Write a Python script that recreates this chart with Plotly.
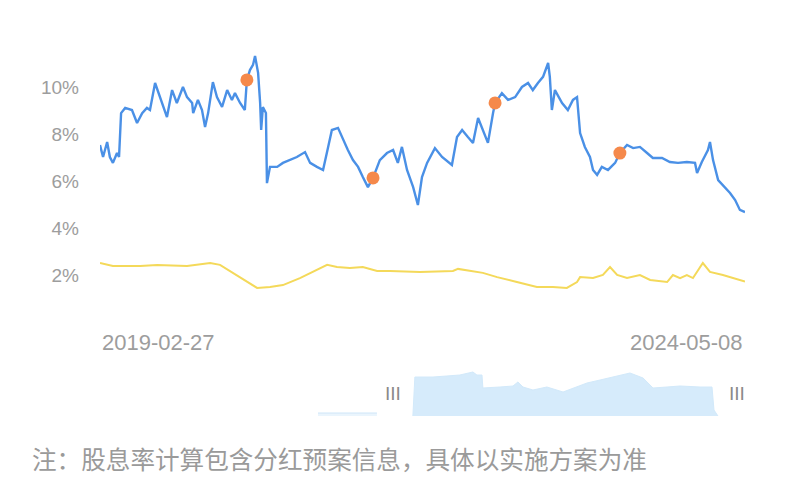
import plotly.graph_objects as go

# ---------------- data ----------------
blue_dates = [
    "2019-02-27", "2019-03-08", "2019-03-20", "2019-03-28", "2019-04-06", "2019-04-18", "2019-04-24",
    "2019-04-30", "2019-05-12", "2019-06-01", "2019-06-16", "2019-07-01", "2019-07-15", "2019-07-24",
    "2019-08-08", "2019-08-22", "2019-09-12", "2019-09-27", "2019-10-11", "2019-10-29", "2019-11-10",
    "2019-11-25", "2019-11-28", "2019-12-12", "2019-12-24", "2020-01-02", "2020-01-11", "2020-01-25",
    "2020-02-06", "2020-02-21", "2020-03-07", "2020-03-21", "2020-03-30", "2020-04-14", "2020-04-28",
    "2020-05-04", "2020-05-13", "2020-05-22", "2020-05-28", "2020-06-06", "2020-06-12", "2020-06-15",
    "2020-06-20", "2020-06-29", "2020-07-02", "2020-07-11", "2020-08-01", "2020-08-18", "2020-09-08",
    "2020-09-28", "2020-10-22", "2020-11-06", "2020-11-26", "2020-12-14", "2020-12-29", "2021-01-09",
    "2021-01-27", "2021-02-11", "2021-02-25", "2021-03-12", "2021-03-27", "2021-04-10", "2021-04-25",
    "2021-05-10", "2021-05-30", "2021-06-20", "2021-07-08", "2021-07-22", "2021-08-03", "2021-08-18",
    "2021-09-05", "2021-09-19", "2021-10-01", "2021-10-16", "2021-11-08", "2021-11-29", "2021-12-16",
    "2021-12-28", "2022-01-12", "2022-01-27", "2022-02-13", "2022-02-28", "2022-03-15", "2022-03-29",
    "2022-04-13", "2022-04-28", "2022-05-04", "2022-05-24", "2022-06-11", "2022-07-02", "2022-07-22",
    "2022-08-09", "2022-08-23", "2022-09-07", "2022-09-22", "2022-10-07", "2022-10-12", "2022-10-18",
    "2022-10-27", "2022-11-17", "2022-12-04", "2022-12-19", "2022-12-31", "2023-01-09", "2023-01-23",
    "2023-02-07", "2023-02-16", "2023-02-28", "2023-03-14", "2023-04-01", "2023-04-22", "2023-05-06",
    "2023-05-27", "2023-06-14", "2023-07-04", "2023-07-25", "2023-08-11", "2023-09-07", "2023-09-30",
    "2023-10-24", "2023-11-19", "2023-12-13", "2023-12-19", "2024-01-02", "2024-01-20", "2024-01-26",
    "2024-02-04", "2024-02-19", "2024-03-10", "2024-03-25", "2024-04-09", "2024-04-23", "2024-05-08",
]
blue_vals = [
    7.53, 7.02, 7.66, 7.02, 6.77, 7.19, 7.02,
    8.89, 9.11, 9.02, 8.47, 8.89, 9.11, 9.02,
    10.17, 9.57, 8.72, 9.87, 9.32, 10.00, 9.57,
    9.32, 8.89, 9.45, 9.02, 8.30, 8.89, 10.21,
    9.57, 9.15, 9.87, 9.45, 9.74, 9.32, 9.02,
    10.30, 10.72, 10.94, 11.32, 10.60, 9.32, 8.17,
    9.15, 8.89, 5.91, 6.60, 6.60, 6.77, 6.89,
    7.02, 7.23, 6.77, 6.60, 6.47, 7.45, 8.17,
    8.26, 7.74, 7.32, 6.89, 6.60, 6.17, 5.74,
    6.13, 6.89, 7.19, 7.32, 6.77, 7.45, 6.47,
    5.74, 4.98, 6.17, 6.77, 7.40, 7.02, 6.81,
    6.68, 7.87, 8.17, 7.87, 7.62, 8.68, 8.17,
    7.62, 8.89, 9.32, 9.74, 9.45, 9.57, 10.00,
    10.17, 9.87, 10.17, 10.43, 11.02, 10.43, 9.02,
    9.87, 9.32, 9.02, 9.45, 9.57, 8.04, 7.45,
    7.02, 6.47, 6.26, 6.60, 6.47, 6.77, 7.19,
    7.53, 7.40, 7.45, 7.19, 6.98, 6.98, 6.81,
    6.77, 6.81, 6.77, 6.34, 6.81, 7.32, 7.66,
    6.89, 6.04, 5.74, 5.49, 5.19, 4.77, 4.68,
]

yellow_dates = [
    "2019-02-27", "2019-04-06", "2019-06-25", "2019-08-14", "2019-11-10", "2019-12-18", "2020-01-17",
    "2020-02-15", "2020-03-24", "2020-05-04", "2020-06-03", "2020-07-11", "2020-08-18", "2020-10-07",
    "2020-11-26", "2020-12-26", "2021-01-24", "2021-03-03", "2021-04-10", "2021-05-22", "2021-06-29",
    "2021-09-25", "2021-12-31", "2022-01-15", "2022-03-29", "2022-05-10", "2022-07-07", "2022-09-04",
    "2022-10-21", "2022-12-01", "2022-12-31", "2023-01-09", "2023-02-16", "2023-03-17", "2023-04-07",
    "2023-04-28", "2023-05-27", "2023-07-04", "2023-08-03", "2023-09-22", "2023-10-09", "2023-10-30",
    "2023-11-19", "2023-12-07", "2024-01-05", "2024-01-26", "2024-03-04", "2024-05-02", "2024-05-08",
]
yellow_vals = [
    2.51, 2.38, 2.38, 2.43, 2.38, 2.47, 2.51,
    2.43, 2.09, 1.70, 1.45, 1.49, 1.57, 1.87,
    2.21, 2.43, 2.34, 2.30, 2.34, 2.17, 2.17,
    2.13, 2.17, 2.26, 2.09, 1.91, 1.70, 1.49,
    1.49, 1.45, 1.70, 1.91, 1.87, 2.00, 2.34,
    2.00, 1.87, 2.00, 1.79, 1.70, 2.00, 1.87,
    2.00, 1.87, 2.51, 2.13, 2.00, 1.74, 1.72,
]

# dividend plan markers (on the blue line)
dot_dates = ["2020-05-04", "2021-05-10", "2022-05-04", "2023-05-06"]
blue_lookup = dict(zip(blue_dates, blue_vals))
dot_vals = [blue_lookup[d] for d in dot_dates]

y_ticks = [2, 4, 6, 8, 10]

# navigator (mini overview) data
nav_range = ["2018-01-10", "2024-06-21"]
nav_left_dates = ["2018-01-09", "2018-04-01", "2018-07-01", "2018-10-01", "2018-12-01"]
nav_left_vals = [3, 3, 3.2, 3, 3]
nav_dates = [
    "2019-06-17", "2019-06-28", "2019-07-15", "2019-10-06", "2019-12-21", "2020-03-02", "2020-05-13",
    "2020-06-04", "2020-07-02", "2020-07-07", "2020-10-09", "2020-12-20", "2021-01-16", "2021-02-13",
    "2021-04-09", "2021-06-25", "2021-09-22", "2021-12-08", "2022-02-01", "2022-04-14", "2022-06-24",
    "2022-09-26", "2022-12-07", "2023-01-31", "2023-04-18", "2023-06-29", "2023-10-17", "2023-12-22",
    "2024-01-02", "2024-01-24",
]
nav_vals = [
    0, 39, 39, 39, 40, 41, 44,
    41, 41, 28, 29, 30, 34, 29,
    26, 29, 24, 29, 33, 36, 39,
    43, 38, 28, 29, 30, 29, 29,
    6, 0,
]

note_text = "注：股息率计算包含分红预案信息，具体以实施方案为准"

# ---------------- figure ----------------
W, H = 800, 500
FONT = "Liberation Sans, Arial, Noto Sans CJK SC, sans-serif"
GRAY = "#9d9d9d"

fig = go.Figure()

fig.add_trace(go.Scatter(
    x=yellow_dates, y=yellow_vals, mode="lines",
    line=dict(color="#f4d95a", width=2), hoverinfo="skip", showlegend=False,
))
fig.add_trace(go.Scatter(
    x=blue_dates, y=blue_vals, mode="lines",
    line=dict(color="#4a90e6", width=2.4), hoverinfo="skip", showlegend=False,
))
fig.add_trace(go.Scatter(
    x=dot_dates, y=dot_vals, mode="markers",
    marker=dict(color="#f5894b", size=13), hoverinfo="skip", showlegend=False,
))

# navigator
fig.add_trace(go.Scatter(
    x=nav_left_dates, y=nav_left_vals, mode="lines", fill="tozeroy",
    line=dict(color="#cfe6f8", width=1), fillcolor="rgba(214,235,251,0.5)",
    xaxis="x2", yaxis="y2", hoverinfo="skip", showlegend=False,
))
fig.add_trace(go.Scatter(
    x=nav_dates, y=nav_vals, mode="lines", fill="tozeroy",
    line=dict(color="#d2e9fa", width=1), fillcolor="#d6ebfb",
    xaxis="x2", yaxis="y2", hoverinfo="skip", showlegend=False,
))

px_x = lambda p: p / W
px_y = lambda p: 1 - p / H

fig.update_layout(
    width=W, height=H,
    margin=dict(l=0, r=0, t=0, b=0),
    paper_bgcolor="white", plot_bgcolor="white",
    font=dict(family=FONT, color=GRAY),
    xaxis=dict(
        domain=[px_x(100), px_x(745)],
        range=[blue_dates[0], blue_dates[-1]],
        type="date", showticklabels=False, showgrid=False, zeroline=False, showline=False,
    ),
    yaxis=dict(
        domain=[px_y(322), px_y(50)],
        range=[0, 11.574],
        tickvals=y_ticks, ticktext=[f"{v}%" for v in y_ticks],
        tickfont=dict(size=19, color=GRAY, family=FONT),
        ticks="", ticklabelstandoff=20,
        showgrid=False, zeroline=False, showline=False,
    ),
    xaxis2=dict(
        domain=[px_x(318), px_x(745)], anchor="y2",
        range=nav_range, type="date",
        showticklabels=False, showgrid=False, zeroline=False, showline=False,
    ),
    yaxis2=dict(
        domain=[px_y(416), px_y(370)], anchor="x2",
        range=[0, 46],
        showticklabels=False, showgrid=False, zeroline=False, showline=False,
    ),
)

annotations = [
    dict(x=blue_dates[0], y=px_y(342), xref="x", yref="paper", text=blue_dates[0],
         showarrow=False, xanchor="left", yanchor="middle",
         font=dict(size=22, color=GRAY, family=FONT)),
    dict(x=blue_dates[-1], y=px_y(342), xref="x", yref="paper", text=blue_dates[-1],
         showarrow=False, xanchor="right", yanchor="middle",
         font=dict(size=22, color=GRAY, family=FONT)),
    dict(x=blue_dates[0], y=px_y(393), xref="x2", yref="paper", text="III",
         showarrow=False, xanchor="center", yanchor="middle",
         font=dict(size=18, color="#8a8a8a", family="DejaVu Sans")),
    dict(x=blue_dates[-1], y=px_y(393), xref="x2", yref="paper", text="III",
         showarrow=False, xanchor="center", yanchor="middle",
         font=dict(size=18, color="#8a8a8a", family="DejaVu Sans")),
    dict(x=px_x(30), y=px_y(458), xref="paper", yref="paper", text=note_text,
         showarrow=False, xanchor="left", yanchor="middle",
         font=dict(size=24.6, color="#9a9a9a", family="Noto Sans CJK SC")),
]
fig.update_layout(annotations=annotations)

fig.write_html(
    "out.html",
    config={"displayModeBar": False},
    post_script="document.body.style.margin='0';document.body.style.padding='0';",
)
